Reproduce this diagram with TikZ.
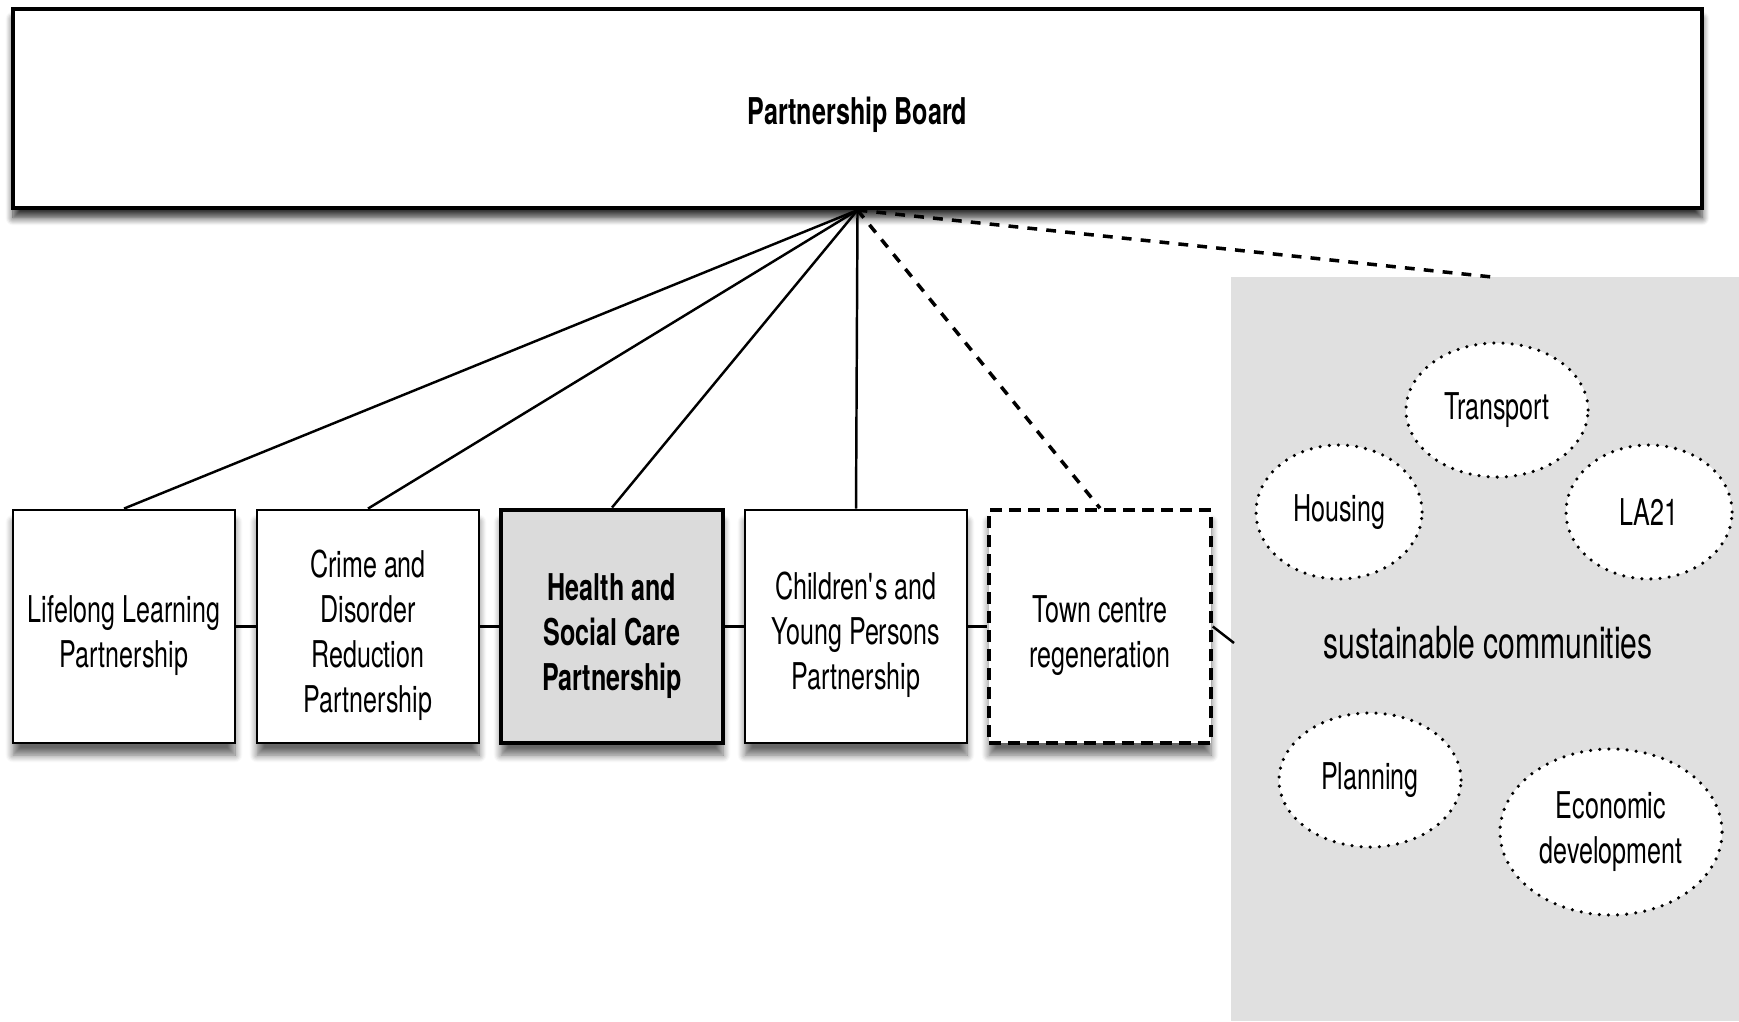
\documentclass[tikz,border=0pt]{standalone}
\usepackage{fontspec}
\setmainfont{TeX Gyre Heros}[FakeStretch=0.68]
\usetikzlibrary{shapes.geometric,shadows.blur}
\tikzset{
	partbox/.style={draw, line width=0.8pt, fill=white, minimum width=2.22cm, minimum height=2.33cm, align=center, inner sep=2pt,
		font=\fontsize{10.5}{12.8}\selectfont,
		blur shadow={shadow xshift=0pt, shadow yshift=-0.12cm, shadow blur steps=8, shadow opacity=60}},
	theme/.style={ellipse, draw, line width=1pt, dash pattern=on 0pt off 2.6pt, line cap=round, fill=white, align=center, inner sep=0pt,
		font=\fontsize{10.5}{12.8}\selectfont},
	link/.style={line width=0.7pt},
	dashlink/.style={line width=1pt, dash pattern=on 2.8pt off 2.6pt}
}
\begin{document}
\begin{tikzpicture}
				  \useasboundingbox (0,0) rectangle (17.39,10.21);
				  \fill[black!12] (12.31,0) rectangle (17.39,7.44);
				  \coordinate (sctop) at (14.92,7.44);
				  \coordinate (scedge) at (12.34,3.78);
				  \node[draw, line width=1.2pt, fill=white, minimum width=16.89cm, minimum height=1.99cm, text height=11.5pt, font=\bfseries\fontsize{10.5}{12.8}\selectfont,
					blur shadow={shadow xshift=0pt, shadow yshift=-0.1cm, shadow blur steps=8, shadow opacity=80}] (board) at (8.575,9.125) {Partnership Board};
				  \node[partbox, text height=25.6pt] (ll) at (1.24,3.945) {Lifelong Learning\\Partnership};
				  \node[partbox, text height=51.2pt] (cd) at (3.68,3.945) {Crime and\\Disorder\\Reduction\\Partnership};
				  \node[partbox, text height=38.6pt, line width=1.4pt, fill=black!14, font=\bfseries\fontsize{10.5}{12.8}\selectfont] (hs) at (6.12,3.945) {Health and\\Social Care\\Partnership};
				  \node[partbox, text height=38.4pt] (cy) at (8.56,3.945) {Children\textquotesingle s and\\Young Persons\\Partnership};
				  \node[partbox, text height=25.6pt, line width=1pt, dash pattern=on 3.4pt off 2pt] (tc) at (11.00,3.945) {Town centre\\regeneration};
				  \foreach \a/\b in {ll/cd, cd/hs, hs/cy, cy/tc}
					\draw[link] (\a.east) -- (\b.west);
				  \foreach \b in {ll, cd, hs, cy}
					\draw[link] (board.south) -- (\b.north);
				  \draw[dashlink] (board.south) -- (tc.north);
				  \draw[dashlink] (board.south) -- (sctop);
				  \draw[link] (tc.east) -- (scedge);
				  \node[theme, minimum width=1.82cm, minimum height=1.34cm] (transport) at (14.97,6.11) {Transport};
				  \node[theme, minimum width=1.66cm, minimum height=1.34cm] (housing) at (13.39,5.09) {Housing};
				  \node[theme, minimum width=1.66cm, minimum height=1.34cm] (la21) at (16.49,5.09) {LA21};
				  \node[theme, minimum width=1.82cm, minimum height=1.34cm] (planning) at (13.70,2.41) {Planning};
				  \node[theme, minimum width=2.22cm, minimum height=1.66cm] (econ) at (16.11,1.89) {Economic\\development};
				  \node[font=\fontsize{12.6}{15}\selectfont, inner sep=0pt] (sc) at (14.88,3.78) {sustainable communities};
				\end{tikzpicture}
\end{document}
